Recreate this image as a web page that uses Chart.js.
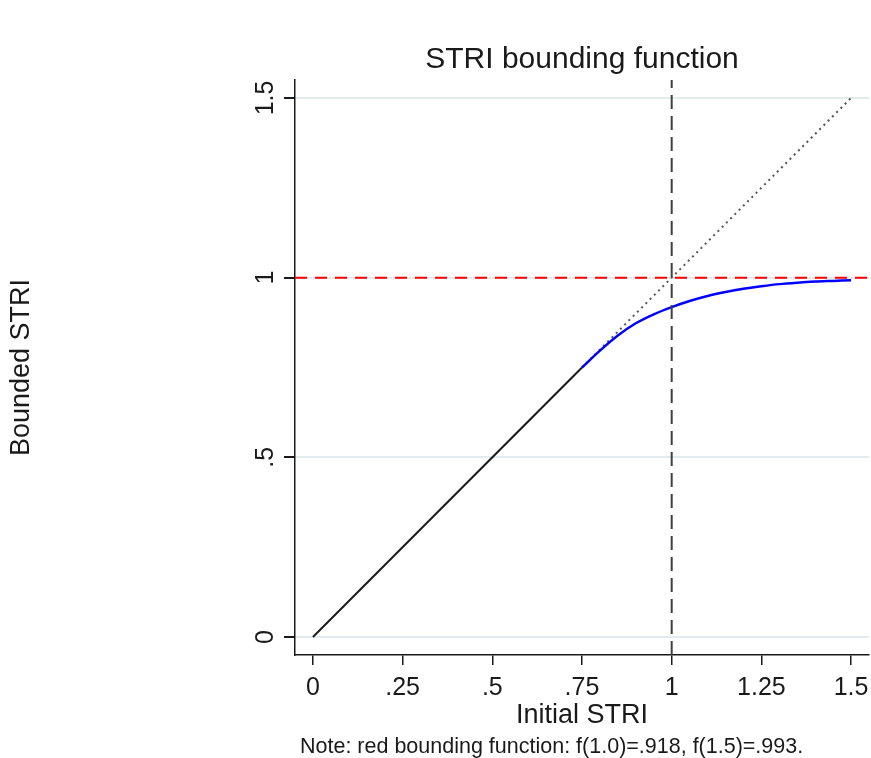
<!DOCTYPE html>
<html>
<head>
<meta charset="utf-8">
<script src="https://cdn.jsdelivr.net/npm/chart.js@4.4.1/dist/chart.umd.min.js"></script>
<style>
  html, body { margin: 0; padding: 0; background: #fff; }
  #wrap { width: 871px; height: 758px; position: relative; }
</style>
</head>
<body>
<div id="wrap"><canvas id="chart"></canvas></div>
<script>
// ─── DATA ───
const xTicks = [0, 0.25, 0.5, 0.75, 1, 1.25, 1.5];
const xTickLabels = ['0', '.25', '.5', '.75', '1', '1.25', '1.5'];
const yTicks = [0, 0.5, 1, 1.5];
const yTickLabels = ['0', '.5', '1', '1.5'];
const xRange = [-0.05, 1.55];
const yRange = [-0.05, 1.55];

// identity part, solid below the threshold, dotted above it
const identX = [0, 0.75];
const identY = [0, 0.75];
const dottedX = [0.75, 1.5];
const dottedY = [0.75, 1.5];

// bounded (blue) part
const boundX = [0.75, 0.8, 0.85, 0.9, 0.95, 1.0, 1.05, 1.1, 1.15, 1.2, 1.25, 1.3, 1.35, 1.4, 1.45, 1.5];
const boundY = [0.75, 0.797, 0.839, 0.873, 0.898, 0.918, 0.935, 0.949, 0.96, 0.969, 0.976, 0.982, 0.986, 0.989, 0.991, 0.993];

const capLevel = 1;   // red dashed line
const xMark = 1;      // vertical dashed line

const TITLE = 'STRI bounding function';
const X_TITLE = 'Initial STRI';
const Y_TITLE = 'Bounded STRI';
const NOTE = 'Note: red bounding function: f(1.0)=.918, f(1.5)=.993.';

const FONT = '"Liberation Sans", Arial, sans-serif';
const INK = '#1a1a1a';

const zip = (xs, ys) => xs.map((x, i) => ({ x: x, y: ys[i] }));

// ─── TEXT PLUGIN ───
const textPlugin = {
    id: 'stataText',
    afterDraw(chart) {
        const ctx = chart.ctx;
        const area = chart.chartArea;
        const ys = chart.scales.y;
        ctx.save();
        ctx.fillStyle = INK;

        // rotated y tick labels
        ctx.font = '25px ' + FONT;
        ctx.textAlign = 'center';
        ctx.textBaseline = 'alphabetic';
        yTicks.forEach((v, i) => {
            ctx.save();
            ctx.translate(area.left - 22, ys.getPixelForValue(v));
            ctx.rotate(-Math.PI / 2);
            ctx.fillText(yTickLabels[i], 0, 0);
            ctx.restore();
        });

        // title
        ctx.font = '30px ' + FONT;
        ctx.textBaseline = 'middle';
        ctx.fillText(TITLE, (area.left + area.right) / 2, 60);

        // x title
        ctx.font = '27px ' + FONT;
        ctx.fillText(X_TITLE, (area.left + area.right) / 2, 716);

        // y title
        ctx.save();
        ctx.translate(22, (area.top + area.bottom) / 2);
        ctx.rotate(-Math.PI / 2);
        ctx.fillText(Y_TITLE, 0, 0);
        ctx.restore();

        // note
        ctx.font = '21.5px ' + FONT;
        ctx.textAlign = 'left';
        ctx.fillText(NOTE, 300, 747);
        ctx.restore();
    }
};

// ─── CHART ───
new Chart(document.getElementById('chart'), {
    type: 'scatter',
    data: {
        datasets: [
            { data: zip(identX, identY), showLine: true, borderColor: '#1a1a1a', borderWidth: 2, pointRadius: 0, order: 2 },
            { data: zip(dottedX, dottedY), showLine: true, borderColor: '#555', borderWidth: 2, borderDash: [2, 4], pointRadius: 0, order: 3 },
            { data: zip(boundX, boundY), showLine: true, borderColor: '#0000ff', borderWidth: 2.5, pointRadius: 0, cubicInterpolationMode: 'monotone', order: 1 },
            { data: zip(xRange, [capLevel, capLevel]), showLine: true, borderColor: '#ff0000', borderWidth: 2, borderDash: [12, 8], pointRadius: 0, order: 4 },
            { data: zip([xMark, xMark], yRange), showLine: true, borderColor: '#404040', borderWidth: 2, borderDash: [14, 7], pointRadius: 0, order: 0 }
        ]
    },
    options: {
        responsive: true,
        maintainAspectRatio: false,
        animation: false,
        layout: { padding: { top: 80, right: 2, left: 0, bottom: 0 } },
        plugins: { legend: { display: false }, tooltip: { enabled: false }, title: { display: false } },
        scales: {
            x: {
                type: 'linear',
                min: xRange[0],
                max: xRange[1],
                afterBuildTicks: s => { s.ticks = xTicks.map(v => ({ value: v })); },
                afterFit: s => { s.height = 103; s.paddingRight = 0; s.paddingLeft = 0; },
                ticks: {
                    color: INK,
                    font: { family: FONT, size: 25 },
                    padding: 8,
                    maxRotation: 0,
                    callback: (v) => xTickLabels[xTicks.indexOf(v)]
                },
                grid: { display: true, drawOnChartArea: false, color: '#1a1a1a', tickLength: 10, lineWidth: 1.5 },
                border: { display: true, color: '#1a1a1a', width: 1.5 }
            },
            y: {
                type: 'linear',
                min: yRange[0],
                max: yRange[1],
                afterBuildTicks: s => { s.ticks = yTicks.map(v => ({ value: v })); },
                afterFit: s => { s.width = 295; s.paddingTop = 0; s.paddingBottom = 0; },
                ticks: { display: false },
                grid: { color: '#e2ecee', lineWidth: 2, tickColor: '#1a1a1a', tickLength: 11, drawTicks: true },
                border: { display: true, color: '#1a1a1a', width: 1.5 }
            }
        }
    },
    plugins: [textPlugin]
});
</script>
</body>
</html>
